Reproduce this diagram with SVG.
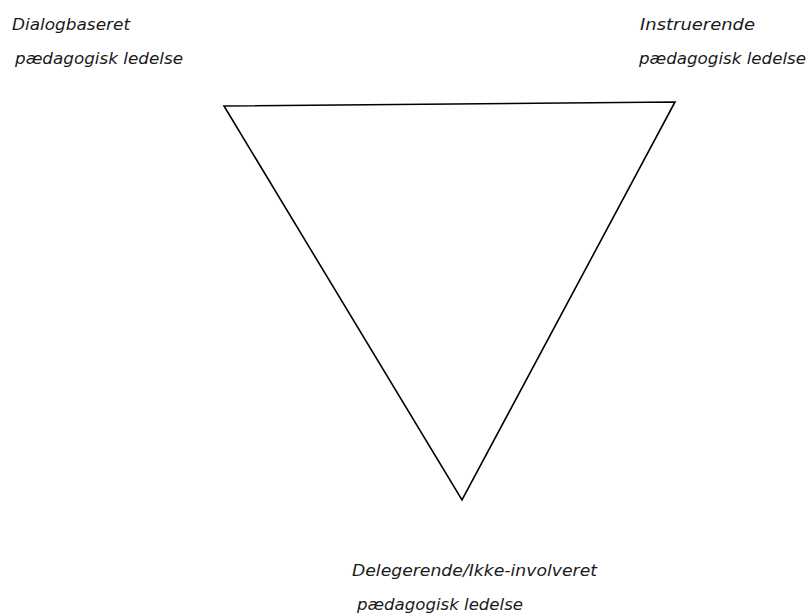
<svg xmlns="http://www.w3.org/2000/svg" width="808" height="614" viewBox="0 0 808 614">
<style>
.lbl{font-family:"DejaVu Sans","Noto Sans",sans-serif;font-style:italic;font-size:16px;fill:#1a1a1a}
.edge{fill:none;stroke:#000;stroke-width:1.6;stroke-linejoin:miter}
</style>
<rect width="808" height="614" fill="#fff"/>
<g id="connectors">
<polygon class="edge" points="224,106 675,102 462,500"/>
</g>
<g id="node-dialog">
<text class="lbl" x="12" y="30" textLength="118" lengthAdjust="spacingAndGlyphs">Dialogbaseret</text>
<text class="lbl" x="15" y="64" textLength="168" lengthAdjust="spacingAndGlyphs">pædagogisk ledelse</text>
</g>
<g id="node-instruerende">
<text class="lbl" x="640" y="30" textLength="115" lengthAdjust="spacingAndGlyphs">Instruerende</text>
<text class="lbl" x="639" y="64" textLength="167" lengthAdjust="spacingAndGlyphs">pædagogisk ledelse</text>
</g>
<g id="node-delegerende">
<text class="lbl" x="352" y="576" textLength="245" lengthAdjust="spacingAndGlyphs">Delegerende/Ikke-involveret</text>
<text class="lbl" x="357" y="610" textLength="166" lengthAdjust="spacingAndGlyphs">pædagogisk ledelse</text>
</g>
</svg>
